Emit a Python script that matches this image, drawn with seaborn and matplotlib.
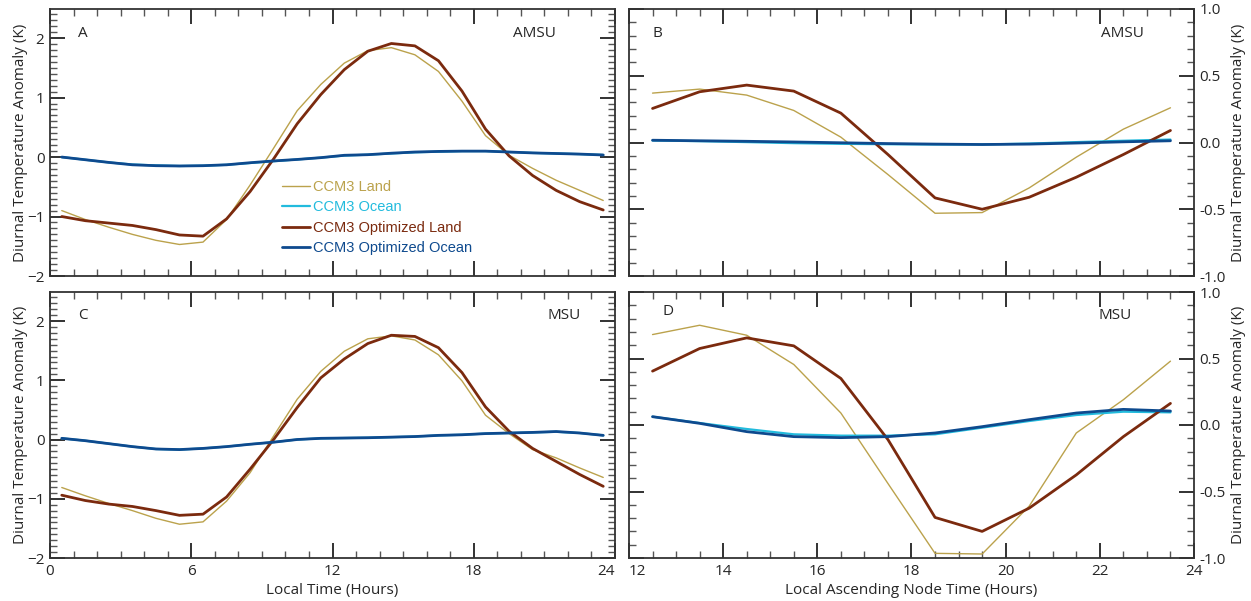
import numpy as np
import pandas as pd
import matplotlib
matplotlib.use("Agg")
import matplotlib.pyplot as plt
import seaborn as sns
from matplotlib.ticker import MultipleLocator

sns.set_theme(style="white")
plt.rcParams['font.family'] = ['Open Sans', 'DejaVu Sans']

# ---------------- data ----------------
hours_lt = [h + 0.5 for h in range(24)]
hours_lant = [h + 0.5 for h in range(12, 24)]

# Panel A (AMSU, local time)
land_A = [-0.90, -1.05, -1.18, -1.30, -1.40, -1.47, -1.43, -1.05, -0.47, 0.15, 0.78, 1.22,
          1.58, 1.79, 1.84, 1.72, 1.44, 0.94, 0.36, 0.03, -0.19, -0.39, -0.56, -0.73]
ocean_A = [0.00, -0.045, -0.09, -0.125, -0.14, -0.15, -0.145, -0.13, -0.10, -0.07, -0.04, -0.01,
           0.025, 0.04, 0.06, 0.08, 0.09, 0.10, 0.10, 0.085, 0.07, 0.06, 0.05, 0.035]
optland_A = [-1.00, -1.07, -1.11, -1.15, -1.22, -1.31, -1.33, -1.04, -0.58, -0.03, 0.56, 1.05,
             1.47, 1.78, 1.91, 1.87, 1.62, 1.11, 0.47, 0.02, -0.31, -0.56, -0.75, -0.89]
optocean_A = [0.00, -0.045, -0.09, -0.13, -0.145, -0.15, -0.145, -0.13, -0.095, -0.065, -0.04, -0.01,
              0.03, 0.04, 0.065, 0.085, 0.095, 0.10, 0.10, 0.085, 0.07, 0.06, 0.05, 0.035]

# Panel C (MSU, local time)
land_C = [-0.81, -0.95, -1.08, -1.20, -1.33, -1.43, -1.39, -1.04, -0.56, 0.06, 0.68, 1.15,
          1.49, 1.70, 1.75, 1.68, 1.43, 0.99, 0.41, 0.10, -0.17, -0.31, -0.48, -0.64]
ocean_C = [0.02, -0.02, -0.07, -0.12, -0.16, -0.17, -0.15, -0.12, -0.08, -0.045, 0.0, 0.02,
           0.025, 0.03, 0.04, 0.05, 0.07, 0.08, 0.10, 0.11, 0.12, 0.13, 0.11, 0.07]
optland_C = [-0.94, -1.03, -1.09, -1.13, -1.20, -1.28, -1.26, -0.97, -0.50, 0.00, 0.54, 1.04,
             1.36, 1.62, 1.76, 1.74, 1.55, 1.13, 0.55, 0.14, -0.15, -0.37, -0.59, -0.79]
optocean_C = [0.02, -0.02, -0.07, -0.12, -0.16, -0.17, -0.15, -0.12, -0.08, -0.045, 0.0, 0.02,
              0.025, 0.03, 0.04, 0.05, 0.07, 0.08, 0.10, 0.11, 0.12, 0.135, 0.11, 0.07]

# Panel B (AMSU, local ascending node time)
land_B = [0.37, 0.40, 0.355, 0.24, 0.04, -0.24, -0.53, -0.525, -0.34, -0.11, 0.10, 0.26]
ocean_B = [0.015, 0.010, 0.003, -0.005, -0.010, -0.013, -0.015, -0.015, -0.008, 0.003, 0.013, 0.022]
optland_B = [0.255, 0.38, 0.43, 0.385, 0.22, -0.09, -0.415, -0.50, -0.41, -0.26, -0.09, 0.09]
optocean_B = [0.017, 0.013, 0.009, 0.004, -0.002, -0.008, -0.012, -0.015, -0.012, -0.004, 0.005, 0.013]

# Panel D (MSU, local ascending node time)
land_D = [0.68, 0.75, 0.675, 0.455, 0.09, -0.44, -0.965, -0.97, -0.61, -0.06, 0.19, 0.48]
ocean_D = [0.0625, 0.015, -0.03, -0.07, -0.08, -0.08, -0.07, -0.02, 0.03, 0.075, 0.10, 0.095]
optland_D = [0.405, 0.575, 0.655, 0.595, 0.35, -0.11, -0.695, -0.80, -0.625, -0.375, -0.0875, 0.1625]
optocean_D = [0.0625, 0.0125, -0.05, -0.0875, -0.095, -0.0875, -0.06, -0.0125, 0.04, 0.09, 0.1175, 0.105]

series_names = ["CCM3 Land", "CCM3 Ocean", "CCM3 Optimized Land", "CCM3 Optimized Ocean"]
colors = {"CCM3 Land": "#BBA24C", "CCM3 Ocean": "#22BBDD",
          "CCM3 Optimized Land": "#7B2A0E", "CCM3 Optimized Ocean": "#0E4A8E"}
widths = {"CCM3 Land": 1.0, "CCM3 Ocean": 1.6,
          "CCM3 Optimized Land": 2.0, "CCM3 Optimized Ocean": 2.0}

W, H = 1251, 601
fig = plt.figure(figsize=(W / 100, H / 100), dpi=100)

def frac(l, t, r, b):
    return [l / W, 1 - b / H, (r - l) / W, (b - t) / H]

axA = fig.add_axes(frac(50, 9, 615, 276))
axB = fig.add_axes(frac(629, 9, 1194, 276))
axC = fig.add_axes(frac(50, 292, 615, 558))
axD = fig.add_axes(frac(629, 292, 1194, 558))

panels = [
    (axA, hours_lt, [land_A, ocean_A, optland_A, optocean_A], "A", "AMSU"),
    (axB, hours_lant, [land_B, ocean_B, optland_B, optocean_B], "B", "AMSU"),
    (axC, hours_lt, [land_C, ocean_C, optland_C, optocean_C], "C", "MSU"),
    (axD, hours_lant, [land_D, ocean_D, optland_D, optocean_D], "D", "MSU"),
]

for ax, xs, ys, letter, inst in panels:
    frames = []
    for name, y in zip(series_names, ys):
        frames.append(pd.DataFrame({"x": xs, "y": y, "series": name}))
    df = pd.concat(frames, ignore_index=True)
    for name in series_names:
        sub = df[df["series"] == name]
        sns.lineplot(data=sub, x="x", y="y", ax=ax, color=colors[name],
                     linewidth=widths[name], label=name, sort=False, estimator=None)
    ax.set_xlabel("")
    ax.set_ylabel("")
    if ax.get_legend() is not None:
        ax.get_legend().remove()
    for sp in ax.spines.values():
        sp.set_color("#333333")
        sp.set_linewidth(1.3)
    ax.tick_params(which="both", direction="in", top=True, bottom=True, left=True, right=True,
                   labelsize=11, pad=4)
    ax.tick_params(which="major", length=11, width=1.3, color="#222222")
    ax.tick_params(which="minor", length=5, width=1.0, color="#555555")

for ax in (axA, axC):
    ax.set_xlim(0, 24)
    ax.set_ylim(-2, 2.49)
    ax.xaxis.set_major_locator(MultipleLocator(6))
    ax.xaxis.set_minor_locator(MultipleLocator(1))
    ax.yaxis.set_major_locator(MultipleLocator(1))
    ax.yaxis.set_minor_locator(MultipleLocator(0.1))
    ax.set_ylabel("Diurnal Temperature Anomaly (K)", fontsize=11, labelpad=-1)

for ax in (axB, axD):
    ax.set_xlim(12, 24)
    ax.set_ylim(-1, 1)
    ax.xaxis.set_major_locator(MultipleLocator(2))
    ax.xaxis.set_minor_locator(MultipleLocator(0.5))
    ax.yaxis.set_major_locator(MultipleLocator(0.5))
    ax.yaxis.set_minor_locator(MultipleLocator(0.1))
    ax.yaxis.set_major_formatter(matplotlib.ticker.FormatStrFormatter("%.1f"))
    ax.tick_params(labelleft=False, labelright=True)
    ax.yaxis.set_label_position("right")
    ax.set_ylabel("Diurnal Temperature Anomaly (K)", fontsize=11, labelpad=4)

for ax in (axA, axB):
    ax.tick_params(labelbottom=False)

axC.set_xlabel("Local Time (Hours)", fontsize=11, labelpad=3)
axD.set_xlabel("Local Ascending Node Time (Hours)", fontsize=11, labelpad=3)

# keep the adjoining "24" and "12" tick labels apart
fig.canvas.draw()
for lab in axC.get_xticklabels():
    if lab.get_text() == "24":
        lab.set_horizontalalignment("right")
for lab in axD.get_xticklabels():
    if lab.get_text() == "12":
        lab.set_horizontalalignment("left")

# panel letters and instrument names
axA.text(0.05, 0.91, "A", transform=axA.transAxes, fontsize=11, ha="left", va="center")
axA.text(0.895, 0.91, "AMSU", transform=axA.transAxes, fontsize=11, ha="right", va="center")
axB.text(0.042, 0.91, "B", transform=axB.transAxes, fontsize=11, ha="left", va="center")
axB.text(0.912, 0.91, "AMSU", transform=axB.transAxes, fontsize=11, ha="right", va="center")
axC.text(0.05, 0.91, "C", transform=axC.transAxes, fontsize=11, ha="left", va="center")
axC.text(0.94, 0.91, "MSU", transform=axC.transAxes, fontsize=11, ha="right", va="center")
axD.text(0.06, 0.925, "D", transform=axD.transAxes, fontsize=11, ha="left", va="center")
axD.text(0.89, 0.91, "MSU", transform=axD.transAxes, fontsize=11, ha="right", va="center")

# legend in panel A
handles, labels = axA.get_legend_handles_labels()
leg = axA.legend(handles, labels, loc="upper left", bbox_to_anchor=(0.40, 0.38),
                 frameon=False, handlelength=1.9, handletextpad=0.25, labelspacing=0.42,
                 borderaxespad=0.0, prop={"family": "Liberation Sans", "size": 10.5})
for txt, name in zip(leg.get_texts(), labels):
    txt.set_color(colors[name])

fig.savefig("out.png", dpi=100)
